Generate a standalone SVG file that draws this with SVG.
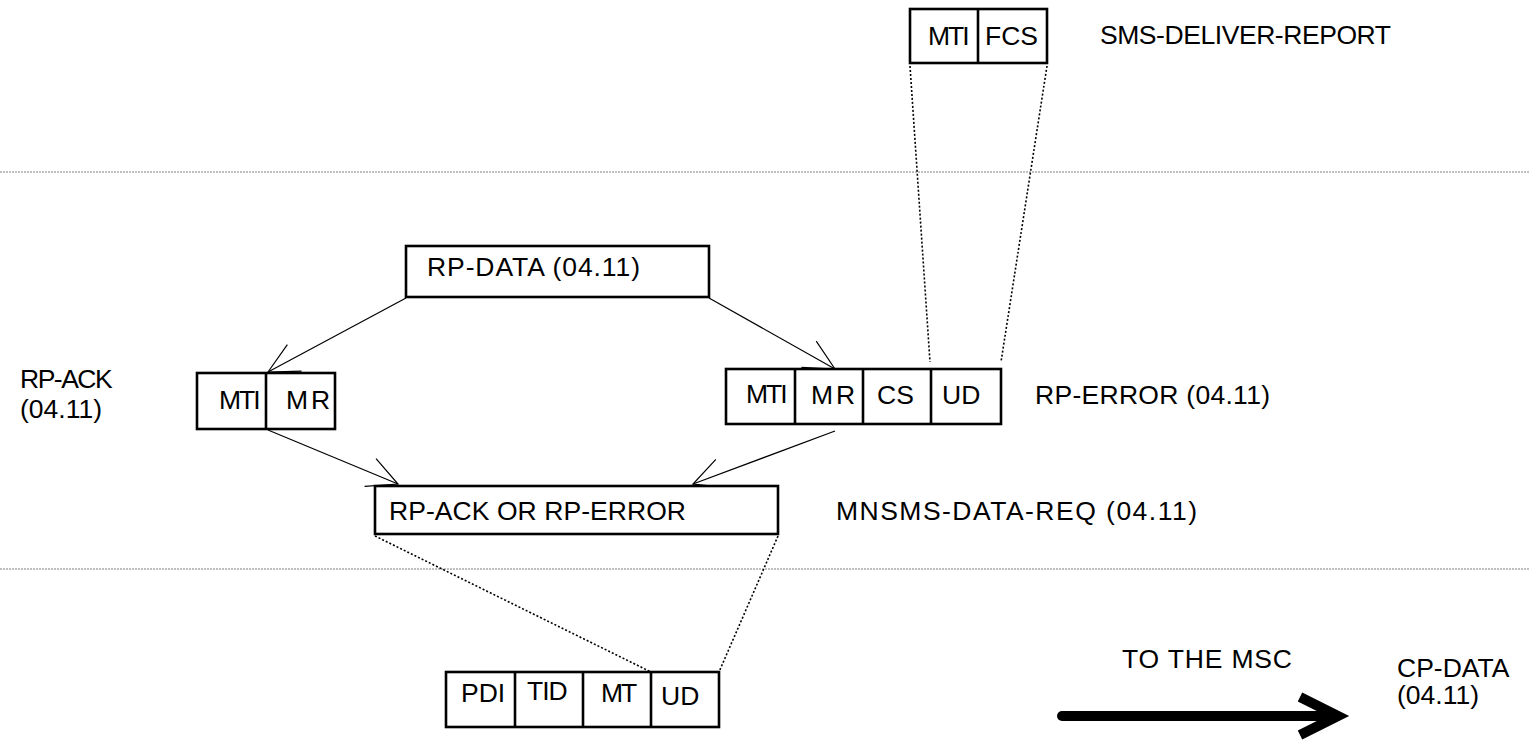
<svg xmlns="http://www.w3.org/2000/svg" width="1529" height="741" viewBox="0 0 1529 741">
<style>
  .box { fill: #fff; stroke: #000; stroke-width: 2.6; }
  .div { stroke: #000; stroke-width: 2.6; }
  .t { font-family: "Liberation Sans", Arial, sans-serif; font-size: 26.5px; fill: #000; }
  .arr { stroke: #000; stroke-width: 1.2; fill: none; }
  .dot { stroke: #000; stroke-width: 1.6; stroke-dasharray: 2 2; fill: none; }
  .sep { stroke: #808080; stroke-width: 1.2; stroke-dasharray: 2 1; fill: none; }
</style>
<defs>
  <marker id="vhead" markerUnits="userSpaceOnUse" markerWidth="40" markerHeight="40" viewBox="-36 -20 40 40" refX="0" refY="0" orient="auto">
    <path d="M -30 -15 L 0 0 L -30 15" fill="none" stroke="#000" stroke-width="1.2"/>
  </marker>
</defs>
<rect width="1529" height="741" fill="#fff"/>

<g id="separators">
  <line class="sep" x1="0" y1="172" x2="1529" y2="172"/>
  <line class="sep" x1="0" y1="569" x2="1529" y2="569"/>
</g>

<g id="connectors">
  <line class="arr" x1="406" y1="298" x2="268" y2="372" marker-end="url(#vhead)"/>
  <line class="arr" x1="709" y1="298" x2="835" y2="369" marker-end="url(#vhead)"/>
  <line class="arr" x1="268" y1="430" x2="398" y2="484" marker-end="url(#vhead)"/>
  <line class="arr" x1="835" y1="431" x2="693" y2="484" marker-end="url(#vhead)"/>
  <line class="dot" x1="910" y1="66" x2="930" y2="362"/>
  <line class="dot" x1="1047" y1="66" x2="1001" y2="362"/>
  <line class="dot" x1="375" y1="536" x2="651" y2="672"/>
  <line class="dot" x1="778" y1="536" x2="719" y2="672"/>
</g>

<g id="sms-deliver-report">
  <rect class="box" x="910" y="9" width="137" height="54"/>
  <line class="div" x1="978" y1="9" x2="978" y2="63"/>
  <text class="t" x="928" y="45" letter-spacing="-2">MTI</text>
  <text class="t" x="985" y="45">FCS</text>
  <text class="t" x="1100" y="44" textLength="291">SMS-DELIVER-REPORT</text>
</g>

<g id="rp-data">
  <rect class="box" x="406" y="246" width="303" height="51"/>
  <text class="t" x="427" y="276" textLength="213">RP-DATA (04.11)</text>
</g>

<g id="rp-ack">
  <rect class="box" x="197" y="373" width="138" height="56"/>
  <line class="div" x1="266" y1="373" x2="266" y2="429"/>
  <text class="t" x="219" y="409" letter-spacing="-2">MTI</text>
  <text class="t" x="286" y="409" letter-spacing="3">MR</text>
  <text class="t" x="20" y="388" letter-spacing="-1.5">RP-ACK</text>
  <text class="t" x="20" y="418">(04.11)</text>
</g>

<g id="rp-error">
  <rect class="box" x="726" y="369" width="275" height="55"/>
  <line class="div" x1="795" y1="369" x2="795" y2="424"/>
  <line class="div" x1="863" y1="369" x2="863" y2="424"/>
  <line class="div" x1="931" y1="369" x2="931" y2="424"/>
  <text class="t" x="746" y="403" letter-spacing="-2">MTI</text>
  <text class="t" x="811" y="404" letter-spacing="3">MR</text>
  <text class="t" x="877" y="404">CS</text>
  <text class="t" x="942" y="404">UD</text>
  <text class="t" x="1035" y="404" textLength="235">RP-ERROR (04.11)</text>
</g>

<g id="mnsms-data-req">
  <rect class="box" x="375" y="486" width="403" height="48"/>
  <text class="t" x="389" y="520" textLength="297">RP-ACK OR RP-ERROR</text>
  <text class="t" x="836" y="520" textLength="361">MNSMS-DATA-REQ (04.11)</text>
</g>

<g id="cp-data">
  <rect class="box" x="446" y="672" width="273" height="55"/>
  <line class="div" x1="515" y1="672" x2="515" y2="727"/>
  <line class="div" x1="583" y1="672" x2="583" y2="727"/>
  <line class="div" x1="651" y1="672" x2="651" y2="727"/>
  <text class="t" x="461" y="702">PDI</text>
  <text class="t" x="527" y="700" letter-spacing="-1">TID</text>
  <text class="t" x="601" y="702" letter-spacing="-2">MT</text>
  <text class="t" x="661" y="705">UD</text>
  <text class="t" x="1397" y="677">CP-DATA</text>
  <text class="t" x="1397" y="704">(04.11)</text>
</g>

<g id="to-msc">
  <text class="t" x="1122" y="668" textLength="170">TO THE MSC</text>
  <line x1="1062" y1="716" x2="1334" y2="716" stroke="#000" stroke-width="10" stroke-linecap="round"/>
  <polyline points="1300,697 1338,716 1300,735" fill="none" stroke="#000" stroke-width="10" stroke-linecap="butt" stroke-linejoin="miter"/>
</g>
</svg>
